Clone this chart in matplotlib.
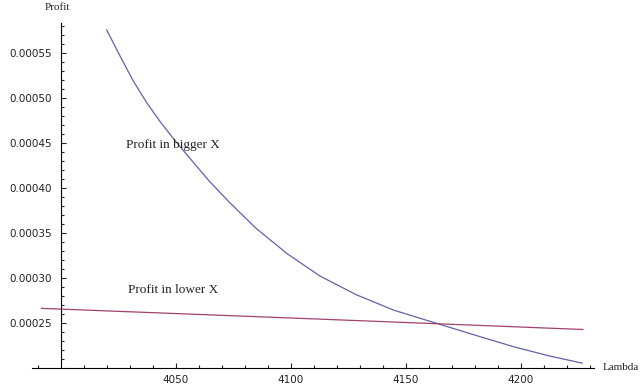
import matplotlib

matplotlib.use("Agg")
import matplotlib.pyplot as plt
from matplotlib.ticker import FixedLocator

# values
lam_bigger = [4020.0, 4025.8, 4031.6, 4037.4, 4043.2, 4049.0, 4056.2, 4064.5, 4073.4, 4085.0,
              4098.4, 4112.7, 4128.7, 4144.8, 4162.6, 4180.4, 4197.3, 4212.5, 4226.8]
profit_bigger = [0.000576, 0.000547, 0.000519, 0.000495, 0.000474, 0.000455, 0.000433,
                 0.000408, 0.000384, 0.000355, 0.000327, 0.000302, 0.000281, 0.000264,
                 0.000250, 0.000236, 0.000223, 0.000213, 0.000205]

lam_lower = [3991.7, 4110.0, 4227.0]
profit_lower = [0.000266, 0.0002543, 0.0002425]

x_major = [4050, 4100, 4150, 4200]
x_minor = list(range(3990, 4231, 10))
y_major = [0.00025, 0.00030, 0.00035, 0.00040, 0.00045, 0.00050, 0.00055]
y_minor = [round(0.00021 + i * 0.00001, 5) for i in range(38)]

serif = ["Liberation Serif", "DejaVu Serif"]

fig = plt.figure(figsize=(6.43, 3.92), dpi=100)
ax = fig.add_axes([26.2 / 643, 0.0163, 598 / 643, 0.9393])
ax.set_xlim(3985, 4245)
ax.set_ylim(0.00018, 0.00059)

ax.plot(lam_bigger, profit_bigger, color="#6262ac", linewidth=0.9)
ax.plot(lam_lower, profit_lower, color="#a2406e", linewidth=0.9)

for s in ("top", "right"):
    ax.spines[s].set_visible(False)
ax.spines["left"].set_position(("data", 4000))
ax.spines["bottom"].set_position(("data", 0.0002))
ax.spines["left"].set_bounds(0.0002, 0.000584)
ax.spines["bottom"].set_bounds(3987.4, 4232)
for s in ("left", "bottom"):
    ax.spines[s].set_linewidth(0.8)

ax.xaxis.set_major_locator(FixedLocator(x_major))
ax.xaxis.set_minor_locator(FixedLocator([v for v in x_minor if v not in x_major and v != 4000]))
ax.yaxis.set_major_locator(FixedLocator(y_major))
ax.yaxis.set_minor_locator(FixedLocator([v for v in y_minor if v not in y_major]))
ax.set_xticklabels([str(v) for v in x_major])
ax.set_yticklabels([f"{v:.5f}" for v in y_major])

ax.tick_params(which="both", direction="in", width=0.8, colors="#222222",
               labelsize=7.5)
ax.tick_params(which="major", length=3.6)
ax.tick_params(which="minor", length=2.2)
ax.tick_params(axis="y", pad=6)
ax.tick_params(axis="x", pad=5)

ax.text(4028.4, 0.000448, "Profit in bigger X", family=serif, fontsize=9.5,
        ha="left", va="center", color="#222222")
ax.text(4029.3, 0.0002864, "Profit in lower X", family=serif, fontsize=9.5,
        ha="left", va="center", color="#222222")

fig.text(57 / 643, 1 - 7 / 392, "Profit", family=serif, fontsize=8,
         ha="center", va="center", color="#222222")
fig.text(603 / 643, 1 - 367 / 392, "Lambda", family=serif, fontsize=8,
         ha="left", va="center", color="#222222")

fig.savefig("out.png", dpi=100)
plt.close(fig)
